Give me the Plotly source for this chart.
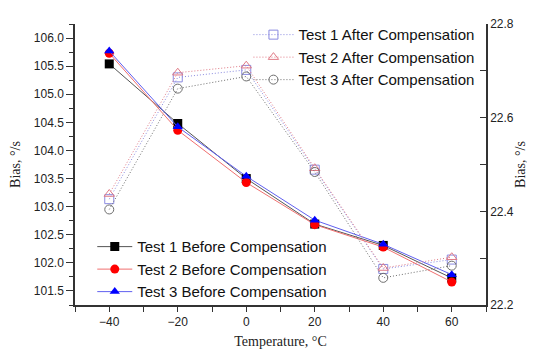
import plotly.graph_objects as go

temps = [-40, -20, 0, 20, 40, 60]

before_t1 = [105.54, 104.48, 103.50, 102.69, 102.31, 101.73]
before_t2 = [105.73, 104.36, 103.43, 102.68, 102.28, 101.66]
before_t3 = [105.77, 104.42, 103.54, 102.76, 102.33, 101.79]

after_t1 = [22.426, 22.686, 22.702, 22.489, 22.277, 22.297]
after_t2 = [22.437, 22.696, 22.711, 22.492, 22.279, 22.302]
after_t3 = [22.404, 22.662, 22.688, 22.484, 22.258, 22.284]

names_before = ["Test 1 Before Compensation", "Test 2 Before Compensation", "Test 3 Before Compensation"]
names_after = ["Test 1 After Compensation", "Test 2 After Compensation", "Test 3 After Compensation"]

fig = go.Figure()

# After compensation (right axis)
after_styles = [
    (after_t1, "#8a8ae0", "square-open"),
    (after_t2, "#e07a86", "triangle-up-open"),
    (after_t3, "#6e6e6e", "circle-open"),
]
for (vals, col, sym), nm in zip(after_styles, names_after):
    fig.add_trace(go.Scatter(
        x=temps, y=vals, name=nm, yaxis="y2", legend="legend",
        mode="lines+markers",
        line=dict(color=col, width=1, dash="1px,2px"),
        marker=dict(symbol=sym, size=9, color=col, line=dict(width=1, color=col)),
    ))

# Before compensation (left axis)
before_styles = [
    (before_t1, "#000000", "#555555", "square"),
    (before_t2, "#ff0000", "#f07070", "circle"),
    (before_t3, "#0000ff", "#6060f0", "triangle-up"),
]
for (vals, mcol, lcol, sym), nm in zip(before_styles, names_before):
    fig.add_trace(go.Scatter(
        x=temps, y=vals, name=nm, yaxis="y", legend="legend2",
        mode="lines+markers",
        line=dict(color=lcol, width=1),
        marker=dict(symbol=sym, size=9, color=mcol),
    ))

tickfont = dict(family="Liberation Sans, Arial, sans-serif", size=12, color="#222222")
titlefont = dict(family="Liberation Serif, Times New Roman, serif", size=14, color="#222222")
legfont = dict(family="Liberation Sans, Arial, sans-serif", size=15, color="#111111")

fig.update_layout(
    width=527, height=341,
    margin=dict(l=67, r=49, t=10, b=44),
    paper_bgcolor="white", plot_bgcolor="white",
    xaxis=dict(
        range=[-50, 70], tick0=-40, dtick=20, automargin=False,
        ticks="outside", ticklen=5, tickwidth=1, tickcolor="#333333",
        minor=dict(dtick=10, tick0=-50, ticks="outside", ticklen=5, tickcolor="#333333"),
        showline=True, linecolor="#333333", linewidth=1.5,
        showgrid=False, zeroline=False, tickfont=tickfont,
        title=dict(text="Temperature, °C", font=titlefont, standoff=13),
    ),
    yaxis=dict(
        range=[101.25, 106.25], tick0=101.5, dtick=0.5, tickformat=".1f", automargin=False,
        ticks="outside", ticklen=7, tickwidth=1, tickcolor="#333333",
        minor=dict(dtick=0.25, ticks="outside", ticklen=4, tickcolor="#333333"),
        showline=True, linecolor="#333333", linewidth=1.5,
        showgrid=False, zeroline=False, tickfont=tickfont,
        title=dict(text="Bias, °/s", font=titlefont, standoff=14),
    ),
    yaxis2=dict(
        overlaying="y", side="right", automargin=False,
        range=[22.2, 22.8], tick0=22.2, dtick=0.2, tickformat=".1f",
        ticks="inside", ticklen=6, tickwidth=1, tickcolor="#333333",
        minor=dict(dtick=0.1, ticks="inside", ticklen=6, tickcolor="#333333"),
        showline=True, linecolor="#333333", linewidth=1.5,
        showgrid=False, zeroline=False, tickfont=tickfont,
        title=dict(text="Bias, °/s", font=titlefont, standoff=2),
    ),
    legend=dict(
        x=0.422, y=1.02, xanchor="left", yanchor="top", itemwidth=40,
        bgcolor="rgba(0,0,0,0)", font=legfont, tracegroupgap=0,
    ),
    legend2=dict(
        x=0.042, y=-0.012, xanchor="left", yanchor="bottom", itemwidth=35,
        bgcolor="rgba(0,0,0,0)", font=legfont, tracegroupgap=0,
    ),
)

fig.write_html("out.html")
